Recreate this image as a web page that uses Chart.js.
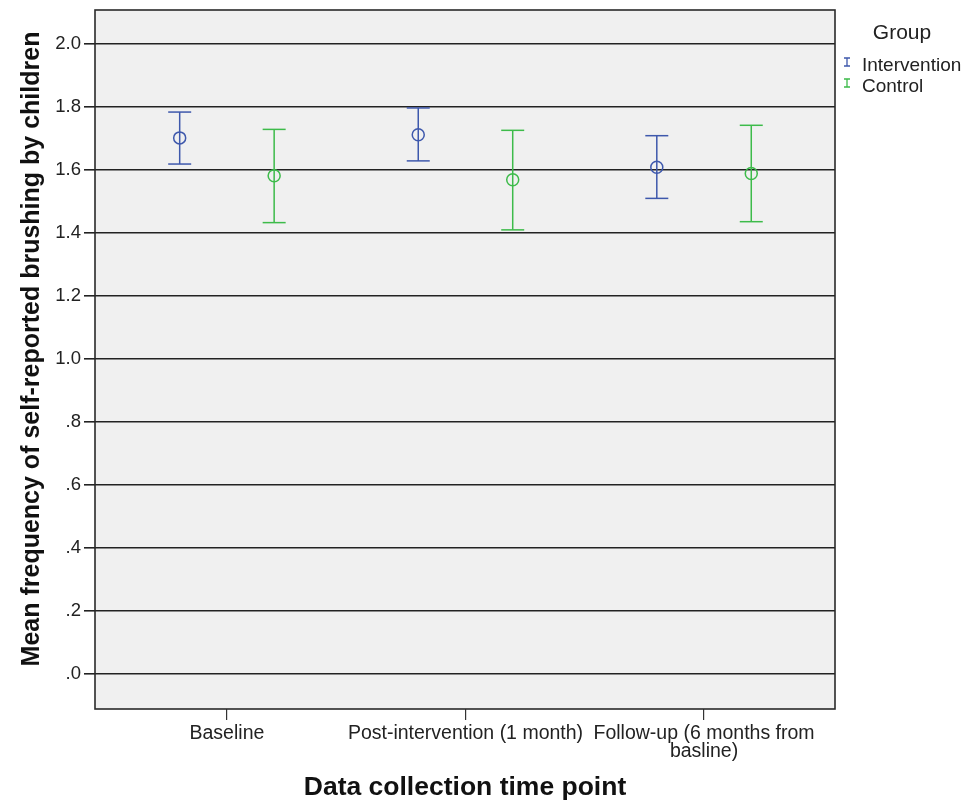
<!DOCTYPE html>
<html lang="en">
<head>
    <meta charset="UTF-8">
    <title>Mean frequency of self-reported brushing by children</title>
    <script src="https://cdn.jsdelivr.net/npm/chart.js"></script>
    <style>
        html, body { margin: 0; padding: 0; background: #fff; }
        #wrap { width: 968px; height: 801px; }
    </style>
</head>
<body>
    <div id="wrap"><canvas id="chart" width="968" height="801"></canvas></div>
    <script>
        // time points
        const categories = ['Baseline', 'Post-intervention (1 month)', ['Follow-up (6 months from', 'basline)']];
        const xTicks = [0, 1, 2];
        const yTicks = [0, 0.2, 0.4, 0.6, 0.8, 1.0, 1.2, 1.4, 1.6, 1.8, 2.0];

        // means and 95% CI bounds
        const interventionMean = [1.702, 1.712, 1.609];
        const interventionLow  = [1.619, 1.629, 1.510];
        const interventionHigh = [1.784, 1.797, 1.709];
        const controlMean = [1.582, 1.569, 1.589];
        const controlLow  = [1.433, 1.410, 1.436];
        const controlHigh = [1.729, 1.726, 1.742];

        const groupOffset = 0.198;
        const blue = '#3E58AC';
        const green = '#3DBB4A';

        function whiskers(low, high, off) {
            const pts = [];
            xTicks.forEach((x, i) => {
                pts.push({ x: x + off, y: low[i] });
                pts.push({ x: x + off, y: high[i] });
                pts.push({ x: x + off, y: null });
            });
            return pts;
        }
        function means(vals, off) {
            return xTicks.map((x, i) => ({ x: x + off, y: vals[i] }));
        }

        const framePlugin = {
            id: 'frame',
            beforeDraw(chart) {
                const { ctx, chartArea: a } = chart;
                ctx.save();
                ctx.fillStyle = '#f0f0f0';
                ctx.fillRect(a.left, a.top, a.right - a.left, a.bottom - a.top);
                ctx.restore();
            },
            afterDraw(chart) {
                const { ctx, chartArea: a } = chart;
                ctx.save();
                ctx.strokeStyle = '#2a2a2a';
                ctx.lineWidth = 1.6;
                ctx.strokeRect(a.left, a.top, a.right - a.left, a.bottom - a.top);

                // y axis title, drawn here so it can sit a little above centre like the original
                ctx.save();
                ctx.translate(32, 349);
                ctx.rotate(-Math.PI / 2);
                ctx.fillStyle = '#111';
                ctx.textAlign = 'center';
                ctx.textBaseline = 'middle';
                ctx.font = 'bold 25px "Liberation Sans", Arial, sans-serif';
                ctx.fillText('Mean frequency of self-reported brushing by children', 0, 0);
                ctx.restore();

                // legend
                ctx.fillStyle = '#222';
                ctx.textBaseline = 'middle';
                ctx.textAlign = 'center';
                ctx.font = '21px "Liberation Sans", Arial, sans-serif';
                ctx.fillText('Group', 902, 33);
                ctx.textAlign = 'left';
                ctx.font = '19px "Liberation Sans", Arial, sans-serif';
                [['Intervention', blue, 66], ['Control', green, 87]].forEach(([label, color, y]) => {
                    ctx.strokeStyle = color;
                    ctx.lineWidth = 1.3;
                    ctx.beginPath();
                    ctx.moveTo(847, y - 8); ctx.lineTo(847, y);
                    ctx.moveTo(844, y - 8); ctx.lineTo(850, y - 8);
                    ctx.moveTo(844, y); ctx.lineTo(850, y);
                    ctx.stroke();
                    ctx.fillStyle = '#222';
                    ctx.fillText(label, 862, y);
                });
                ctx.restore();
            }
        };

        const barStyle = (color) => ({
            showLine: true,
            spanGaps: false,
            borderColor: color,
            borderWidth: 1.5,
            pointStyle: 'line',
            pointRadius: 11.5,
            pointBorderColor: color,
            pointBorderWidth: 1.5
        });
        const meanStyle = (color) => ({
            showLine: false,
            pointStyle: 'circle',
            pointRadius: 6,
            pointBackgroundColor: 'rgba(0,0,0,0)',
            pointBorderColor: color,
            pointBorderWidth: 1.5
        });

        new Chart(document.getElementById('chart'), {
            type: 'scatter',
            data: {
                datasets: [
                    Object.assign({ label: 'Intervention CI', data: whiskers(interventionLow, interventionHigh, -groupOffset) }, barStyle(blue)),
                    Object.assign({ label: 'Control CI', data: whiskers(controlLow, controlHigh, groupOffset) }, barStyle(green)),
                    Object.assign({ label: 'Intervention', data: means(interventionMean, -groupOffset) }, meanStyle(blue)),
                    Object.assign({ label: 'Control', data: means(controlMean, groupOffset) }, meanStyle(green))
                ]
            },
            options: {
                responsive: false,
                animation: false,
                layout: { autoPadding: false, padding: { top: 10, right: 133, left: 0, bottom: 0 } },
                plugins: {
                    legend: { display: false },
                    tooltip: { enabled: false }
                },
                scales: {
                    x: {
                        type: 'linear',
                        min: -0.553,
                        max: 2.549,
                        afterBuildTicks: (s) => { s.ticks = xTicks.map(v => ({ value: v })); },
                        afterFit: (s) => { s.height = 92; },
                        grid: { drawOnChartArea: false, color: '#333', lineWidth: 1.2, tickLength: 11 },
                        border: { display: false },
                        ticks: {
                            autoSkip: false,
                            maxRotation: 0,
                            padding: 5,
                            color: '#222',
                            font: { family: '"Liberation Sans", Arial, sans-serif', size: 19.5, lineHeight: 0.9 },
                            callback: (v, i) => categories[i]
                        },
                        title: {
                            display: true,
                            text: 'Data collection time point',
                            color: '#111',
                            padding: 0,
                            font: { family: '"Liberation Sans", Arial, sans-serif', size: 26.5, weight: 'bold', lineHeight: 1 }
                        }
                    },
                    y: {
                        min: -0.111,
                        max: 2.108,
                        afterBuildTicks: (s) => { s.ticks = yTicks.map(v => ({ value: v })); },
                        afterFit: (s) => { s.width = 95; s.paddingTop = 0; s.paddingBottom = 0; },
                        grid: { color: '#222', lineWidth: 1.6, tickLength: 11 },
                        border: { display: false },
                        ticks: {
                            padding: 3,
                            color: '#222',
                            font: { family: '"Liberation Sans", Arial, sans-serif', size: 18.5 },
                            callback: (v) => v.toFixed(1).replace(/^0/, '')
                        }
                    }
                }
            },
            plugins: [framePlugin]
        });
    </script>
</body>
</html>
